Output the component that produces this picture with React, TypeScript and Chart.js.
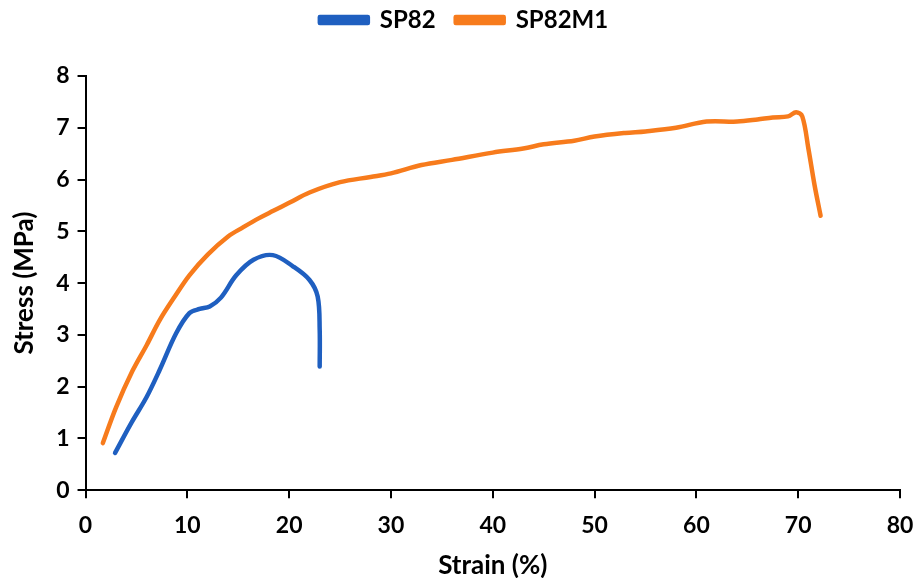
import React, { useEffect, useRef } from "react";
import { Chart, registerables } from "chart.js";

Chart.register(...registerables);

const sp82Strain = [2.9, 4.5, 6.0, 7.3, 8.9, 10.2, 11.2, 12.2, 13.3, 14.8, 16.5, 18.4, 20.4, 22.0, 22.8, 23.0, 23.0];
const sp82Stress = [0.72, 1.3, 1.8, 2.33, 3.03, 3.42, 3.5, 3.55, 3.72, 4.15, 4.45, 4.54, 4.32, 4.06, 3.74, 3.1, 2.39];

const sp82m1Strain = [1.7, 3.0, 4.6, 6.0, 7.3, 8.8, 10.2, 12.0, 14.0, 15.5, 17.0, 18.5, 20.0, 22.0, 25.0, 28.0, 30.0, 33.0, 36.0, 40.0, 43.0, 45.0, 48.0, 50.0, 53.0, 55.0, 58.0, 61.0, 64.0, 66.0, 67.5, 69.0, 69.8, 70.4, 71.0, 71.6, 72.2];
const sp82m1Stress = [0.91, 1.6, 2.3, 2.8, 3.29, 3.75, 4.15, 4.55, 4.9, 5.08, 5.25, 5.4, 5.55, 5.75, 5.95, 6.05, 6.12, 6.28, 6.38, 6.52, 6.6, 6.68, 6.75, 6.83, 6.9, 6.93, 7.0, 7.12, 7.12, 7.16, 7.2, 7.22, 7.3, 7.22, 6.6, 5.9, 5.3];

const xTicks = [0, 10, 20, 30, 40, 50, 60, 70, 80];
const yTicks = [0, 1, 2, 3, 4, 5, 6, 7, 8];

const BLUE = "#1f5fc0";
const ORANGE = "#f77b1c";
const FONT = "Lato, 'Open Sans', sans-serif";

const legendGap = {
  id: "legendGap",
  beforeInit(chart: any) {
    const orig = chart.legend.fit;
    chart.legend.fit = function () {
      orig.call(this);
      this.height += 34;
    };
  },
};

export default function App() {
  const ref = useRef<HTMLCanvasElement | null>(null);
  useEffect(() => {
    if (!ref.current) return;
    const pts = (xs: number[], ys: number[]) => xs.map((x, i) => ({ x, y: ys[i] }));
    const chart = new Chart(ref.current, {
      type: "scatter",
      plugins: [legendGap],
      data: {
        datasets: [
          {
            label: "SP82",
            data: pts(sp82Strain, sp82Stress),
            showLine: true,
            borderColor: BLUE,
            backgroundColor: BLUE,
            borderWidth: 4.5,
            pointRadius: 0,
            tension: 0.35,
            borderCapStyle: "round",
            borderJoinStyle: "round",
          },
          {
            label: "SP82M1",
            data: pts(sp82m1Strain, sp82m1Stress),
            showLine: true,
            borderColor: ORANGE,
            backgroundColor: ORANGE,
            borderWidth: 4.5,
            pointRadius: 0,
            tension: 0.35,
            borderCapStyle: "round",
            borderJoinStyle: "round",
          },
        ],
      },
      options: {
        responsive: false,
        animation: false,
        layout: { padding: { left: 9, right: 0, top: -12, bottom: -3 } },
        plugins: {
          tooltip: { enabled: false },
          legend: {
            position: "top",
            labels: {
              boxWidth: 48,
              boxHeight: 6,
              padding: 20,
              color: "#000",
              font: { family: FONT, size: 24, weight: "bold" },
            },
          },
        },
        scales: {
          x: {
            type: "linear",
            min: 0,
            max: 80,
            afterBuildTicks: (axis: any) => {
              axis.ticks = xTicks.map((v) => ({ value: v }));
            },
            afterFit: (axis: any) => {
              axis.paddingRight = 19;
            },
            border: { display: true, color: "#000", width: 2 },
            grid: { drawOnChartArea: false, drawTicks: true, tickLength: 8, color: "#000", lineWidth: 2 },
            ticks: { color: "#000", padding: 14, font: { family: FONT, size: 23, weight: "bold" } },
            title: {
              display: true,
              text: "Strain (%)",
              color: "#000",
              padding: { top: -4, bottom: 0 },
              font: { family: FONT, size: 26, weight: "bold" },
            },
          },
          y: {
            type: "linear",
            min: 0,
            max: 8,
            afterBuildTicks: (axis: any) => {
              axis.ticks = yTicks.map((v) => ({ value: v }));
            },
            border: { display: true, color: "#000", width: 2 },
            grid: { drawOnChartArea: false, drawTicks: true, tickLength: 8, color: "#000", lineWidth: 2 },
            ticks: { color: "#000", padding: 8, font: { family: FONT, size: 23, weight: "bold" } },
            title: {
              display: true,
              text: "Stress (MPa)",
              color: "#000",
              padding: { top: 0, bottom: 8 },
              font: { family: FONT, size: 26, weight: "bold" },
            },
          },
        },
      },
    } as any);
    return () => chart.destroy();
  }, []);
  return (
    <div style={{ position: "fixed", left: 0, top: 0, width: 919, height: 578, background: "#fff" }}>
      <canvas ref={ref} width={919} height={578} style={{ width: 919, height: 578 }} />
    </div>
  );
}
